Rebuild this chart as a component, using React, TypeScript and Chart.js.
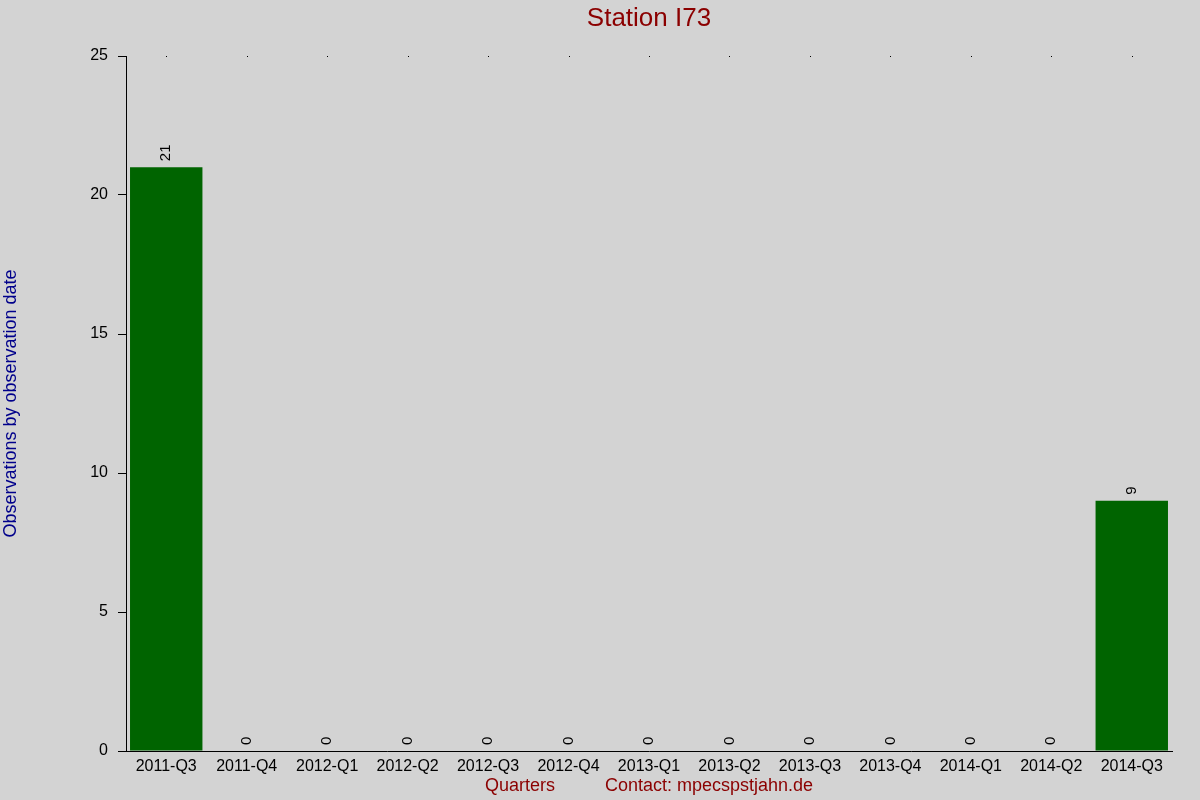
import { useEffect, useRef } from "react";
import { Chart, registerables } from "chart.js";

Chart.register(...registerables);

const quarters = [
  "2011-Q3", "2011-Q4", "2012-Q1", "2012-Q2", "2012-Q3", "2012-Q4", "2013-Q1",
  "2013-Q2", "2013-Q3", "2013-Q4", "2014-Q1", "2014-Q2", "2014-Q3",
];
const observations = [21, 0, 0, 0, 0, 0, 0, 0, 0, 0, 0, 0, 9];
const yTicks = [0, 5, 10, 15, 20, 25];

const FONT = "'Liberation Sans', Arial, sans-serif";

// small dots at the top of each category, like the reference
const topDots = {
  id: "topDots",
  afterDraw(chart: any) {
    const { ctx, chartArea, scales } = chart;
    ctx.save();
    ctx.fillStyle = "#000";
    scales.x.ticks.forEach((_t: any, i: number) => {
      const x = Math.round(scales.x.getPixelForTick(i));
      ctx.fillRect(x, chartArea.top, 1, 1);
    });
    ctx.restore();
  },
};

// rotated value labels above each bar
const valueLabels = {
  id: "valueLabels",
  afterDatasetsDraw(chart: any) {
    const { ctx } = chart;
    const meta = chart.getDatasetMeta(0);
    ctx.save();
    ctx.fillStyle = "#000";
    ctx.font = `15px ${FONT}`;
    ctx.textAlign = "left";
    ctx.textBaseline = "middle";
    meta.data.forEach((bar: any, i: number) => {
      ctx.save();
      ctx.translate(bar.x, bar.y - 6);
      ctx.rotate(-Math.PI / 2);
      ctx.fillText(String(observations[i]), 0, 0);
      ctx.restore();
    });
    ctx.restore();
  },
};

export default function App() {
  const canvasRef = useRef<HTMLCanvasElement>(null);

  useEffect(() => {
    document.body.style.margin = "0";
    if (!canvasRef.current) return;

    const chart = new Chart(canvasRef.current, {
      type: "bar",
      data: {
        labels: quarters,
        datasets: [
          {
            data: observations,
            backgroundColor: "#006400",
            borderWidth: 0,
            barPercentage: 0.9,
            categoryPercentage: 1,
          },
        ],
      },
      options: {
        animation: false,
        responsive: true,
        maintainAspectRatio: false,
        layout: { padding: { left: 0, right: 28, top: 0, bottom: 0 } },
        plugins: {
          legend: { display: false },
          tooltip: { enabled: false },
          title: {
            display: true,
            text: "Station I73",
            color: "#8b0000",
            fullSize: false,
            font: { family: FONT, size: 26, weight: "normal" },
            padding: { top: 3, bottom: 21.8 },
          },
        },
        scales: {
          x: {
            grid: { display: false, drawTicks: false },
            border: { display: true, color: "#000", width: 1 },
            ticks: {
              color: "#000",
              font: { family: FONT, size: 16 },
              padding: 6,
              maxRotation: 0,
              autoSkip: false,
            },
            title: {
              display: true,
              text: "Quarters          Contact: mpecspstjahn.de",
              color: "#8b0000",
              font: { family: FONT, size: 18 },
              padding: { top: 0, bottom: 3 },
            },
            afterFit(scale: any) {
              scale.height = 49;
            },
          },
          y: {
            min: 0,
            max: 25,
            afterBuildTicks(scale: any) {
              scale.ticks = yTicks.map((v) => ({ value: v }));
            },
            grid: {
              drawOnChartArea: false,
              drawTicks: true,
              tickLength: 8,
              color: "#000",
            },
            border: { display: true, color: "#000", width: 1 },
            ticks: {
              color: "#000",
              font: { family: FONT, size: 16 },
              padding: 10,
            },
            title: {
              display: true,
              text: "Observations by observation date",
              color: "#00008b",
              font: { family: FONT, size: 18 },
              padding: { top: 0, bottom: 0 },
            },
            afterFit(scale: any) {
              scale.width = 126;
            },
          },
        },
      },
      plugins: [topDots, valueLabels],
    });

    return () => chart.destroy();
  }, []);

  return (
    <div style={{ width: 1200, height: 800, background: "#d3d3d3", position: "relative" }}>
      <canvas ref={canvasRef} />
    </div>
  );
}
